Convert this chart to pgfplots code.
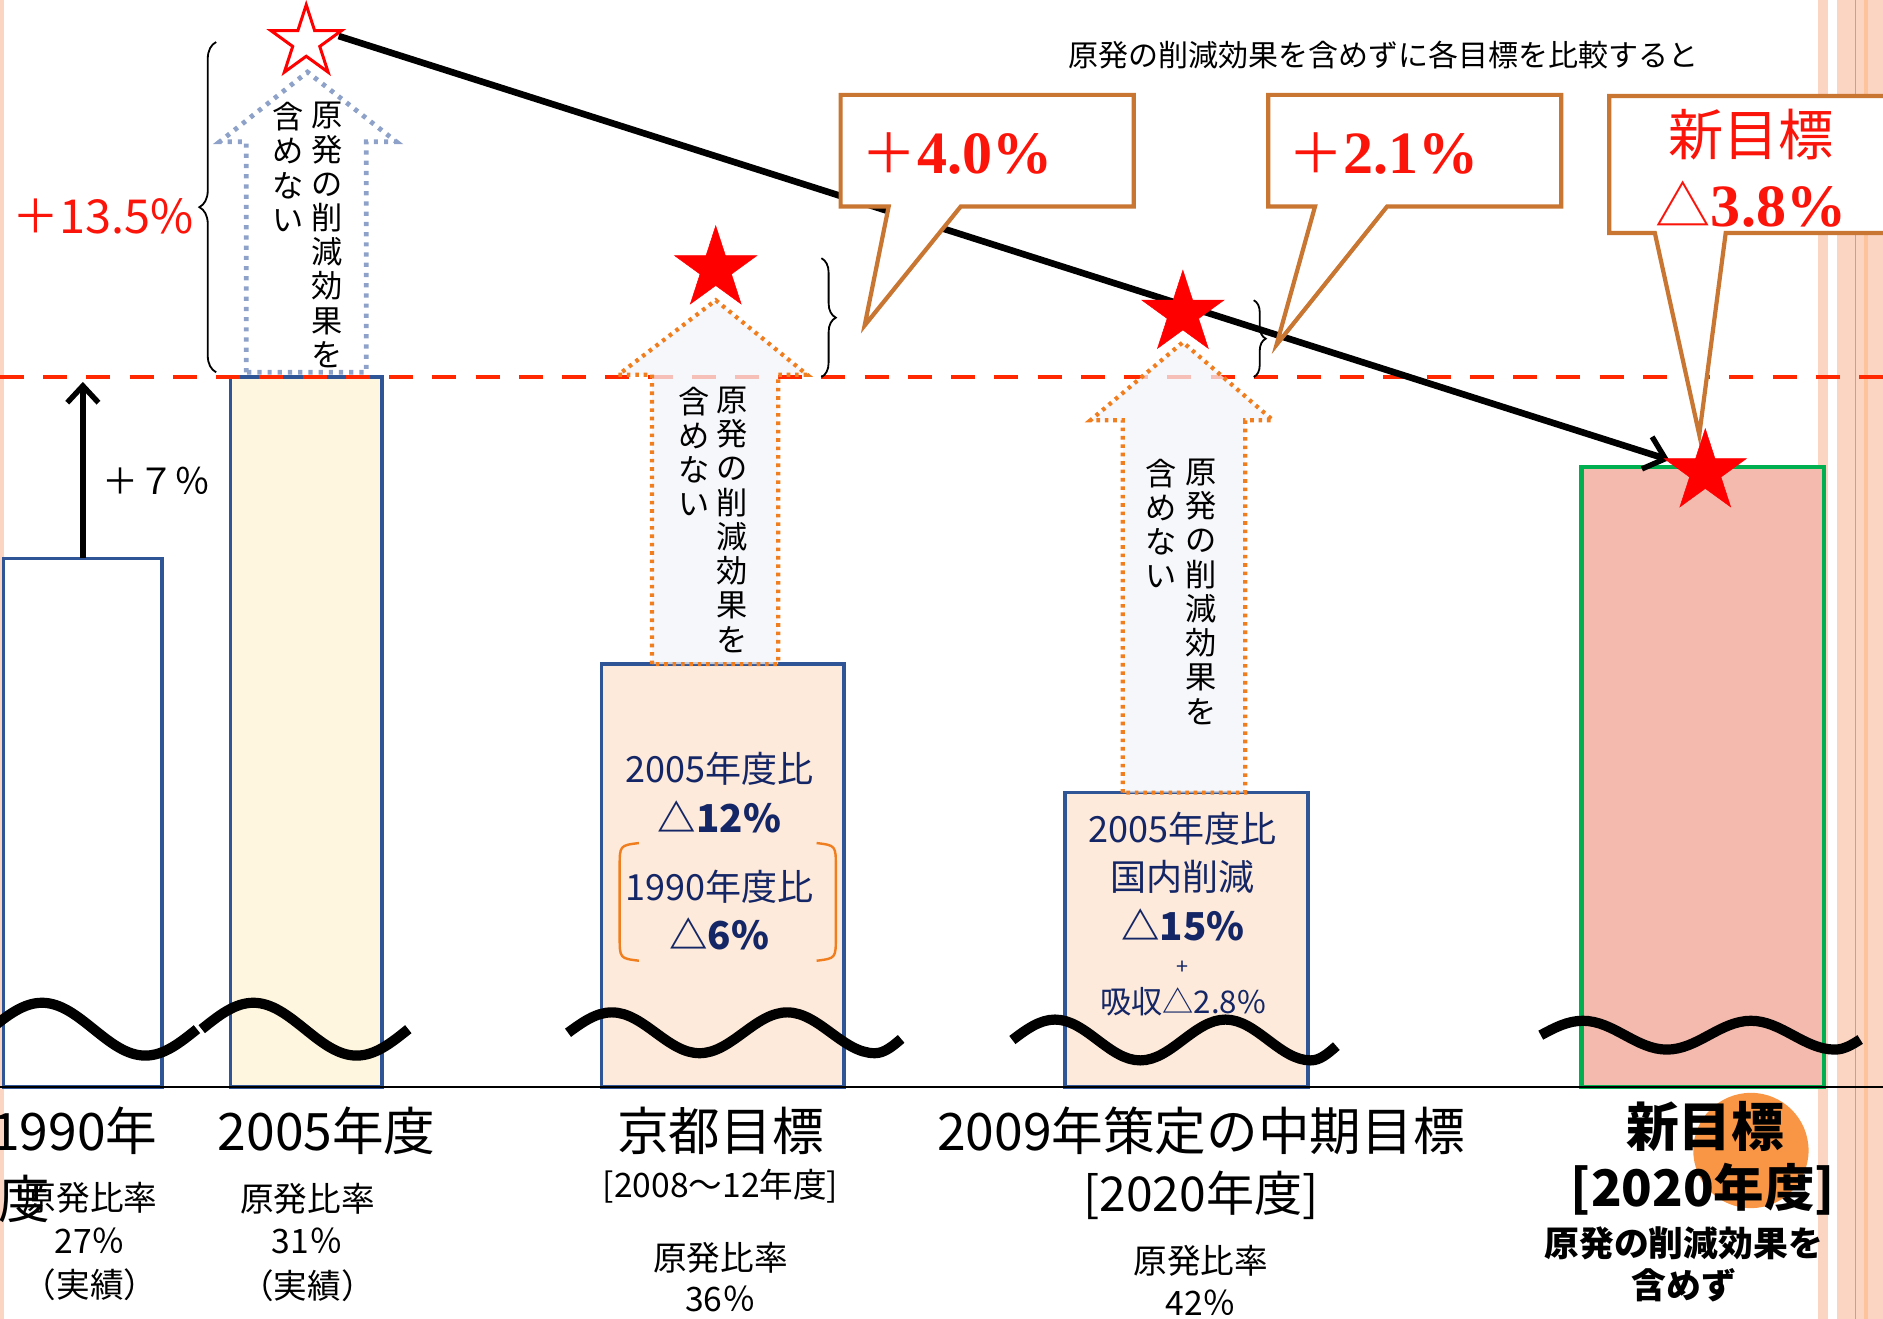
\documentclass[border=0pt]{standalone}
\usepackage{pgfplots}
\pgfplotsset{compat=1.18}
\usepackage{fontspec}
\setmainfont{Noto Sans CJK JP}
\newfontfamily\ser{Liberation Serif}
\usetikzlibrary{arrows.meta,decorations.pathreplacing}
\definecolor{barblue}{RGB}{47,85,151}
\definecolor{navy}{RGB}{20,38,102}
\definecolor{yel}{RGB}{254,246,222}
\definecolor{peach}{RGB}{253,234,218}
\definecolor{salm}{RGB}{244,186,174}
\definecolor{grn}{RGB}{0,176,80}
\definecolor{dred}{RGB}{255,40,0}
\definecolor{callo}{RGB}{200,118,50}
\definecolor{arrfill}{RGB}{243,244,248}
\definecolor{dotblue}{RGB}{142,162,201}
\definecolor{dotor}{RGB}{240,125,30}
\definecolor{stripe}{RGB}{252,212,194}
\definecolor{circor}{RGB}{248,150,70}
\definecolor{tred}{RGB}{250,20,10}
\newcommand\fs[1]{\fontsize{#1}{#1}\selectfont}
\pgfdeclareplotmark{fstar}{%
 \pgfpathmoveto{\pgfpointpolar{90}{\pgfplotmarksize}}%
 \pgfpathlineto{\pgfpointpolar{126}{0.382\pgfplotmarksize}}%
 \pgfpathlineto{\pgfpointpolar{162}{\pgfplotmarksize}}%
 \pgfpathlineto{\pgfpointpolar{198}{0.382\pgfplotmarksize}}%
 \pgfpathlineto{\pgfpointpolar{234}{\pgfplotmarksize}}%
 \pgfpathlineto{\pgfpointpolar{270}{0.382\pgfplotmarksize}}%
 \pgfpathlineto{\pgfpointpolar{306}{\pgfplotmarksize}}%
 \pgfpathlineto{\pgfpointpolar{342}{0.382\pgfplotmarksize}}%
 \pgfpathlineto{\pgfpointpolar{18}{\pgfplotmarksize}}%
 \pgfpathlineto{\pgfpointpolar{54}{0.382\pgfplotmarksize}}%
 \pgfpathclose\pgfusepathqfillstroke}
\newcommand\wave[4]{%
 \draw[line width=8.5pt] (#1,#3) sin ({#1+#2/4},{#3-#4}) cos ({#1+#2/2},#3) sin ({#1+3*#2/4},{#3+#4}) cos ({#1+#2},#3);}
\newcommand\dwave[4]{%
 \draw[line width=8.5pt] (#1,#3) sin ({#1+#2/4},{#3-#4}) cos ({#1+#2/2},#3) sin ({#1+3*#2/4},{#3+#4}) cos ({#1+#2},#3)
  sin ({#1+5*#2/4},{#3-#4}) cos ({#1+3*#2/2},#3) sin ({#1+7*#2/4},{#3+#4}) cos ({#1+1.9*#2},{#3+0.3*#4});}
\begin{document}
\begin{tikzpicture}
\begin{axis}[at={(0,0)}, anchor=south west, width=1568pt, height=1098pt, scale only axis,
 xmin=0, xmax=1568, ymin=0, ymax=1098, y dir=reverse, hide axis, clip=false]
% side stripes
\addplot[fill=stripe, draw=none] coordinates {(0,0)(3,0)(3,1098)(0,1098)} --cycle;
\addplot[fill=stripe, draw=none] coordinates {(1514,0)(1522,0)(1522,1098)(1514,1098)} --cycle;
\addplot[fill=stripe, draw=none] coordinates {(1530,0)(1568,0)(1568,1098)(1530,1098)} --cycle;
\addplot[draw=circor, line width=1.5pt] coordinates {(1545,0)(1545,1098)};
\addplot[draw=stripe!80!orange, line width=3pt] coordinates {(1554,0)(1554,1098)};
% bars
\addplot[fill=white, draw=barblue, line width=3pt] coordinates {(3,905)(3,465)(135,465)(135,905)} --cycle;
\addplot[fill=yel, draw=barblue, line width=3pt] coordinates {(192,905)(192,314)(318,314)(318,905)} --cycle;
\addplot[fill=peach, draw=barblue, line width=3pt] coordinates {(501,905)(501,553)(703,553)(703,905)} --cycle;
\addplot[fill=peach, draw=barblue, line width=3pt] coordinates {(887,905)(887,660)(1089,660)(1089,905)} --cycle;
\addplot[fill=salm, draw=grn, line width=3.5pt] coordinates {(1317,905)(1317,389)(1519,389)(1519,905)} --cycle;
% baseline
\addplot[black, line width=1.8pt] coordinates {(0,905)(1568,905)};
% dashed reference line
\addplot[dred, line width=4pt, dash pattern=on 20pt off 16pt] coordinates {(0,314)(1568,314)};
% hollow arrows
\addplot[fill=white, fill opacity=0.6, draw=dotblue, draw opacity=1, line width=4pt, dash pattern=on 3.5pt off 5pt]
 coordinates {(205,310)(205,118)(183,118)(256,60)(330,118)(305,118)(305,310)} --cycle;
\addplot[fill=arrfill, fill opacity=0.75, draw=dotor, draw opacity=1, line width=3.5pt, dash pattern=on 3pt off 4pt]
 coordinates {(543,553)(543,312)(515,312)(596,250)(672,312)(648,312)(648,553)} --cycle;
\addplot[fill=arrfill, fill opacity=0.75, draw=dotor, draw opacity=1, line width=3.5pt, dash pattern=on 3pt off 4pt]
 coordinates {(935,660)(935,350)(908,350)(985,285)(1060,350)(1037,350)(1037,660)} --cycle;
% vertical texts
\node[font=\fontsize{26pt}{28.5pt}\selectfont, align=center, anchor=north, inner sep=0pt] at (272,85) {原\\発\\の\\削\\減\\効\\果\\を};
\node[font=\fontsize{26pt}{28.5pt}\selectfont, align=center, anchor=north, inner sep=0pt] at (240,85) {含\\め\\な\\い};
\node[font=\fontsize{26pt}{28.5pt}\selectfont, align=center, anchor=north, inner sep=0pt] at (610,322) {原\\発\\の\\削\\減\\効\\果\\を};
\node[font=\fontsize{26pt}{28.5pt}\selectfont, align=center, anchor=north, inner sep=0pt] at (578,322) {含\\め\\な\\い};
\node[font=\fontsize{26pt}{28.5pt}\selectfont, align=center, anchor=north, inner sep=0pt] at (1000,382) {原\\発\\の\\削\\減\\効\\果\\を};
\node[font=\fontsize{26pt}{28.5pt}\selectfont, align=center, anchor=north, inner sep=0pt] at (967,382) {含\\め\\な\\い};
% +7% arrow
\addplot[black, line width=4.5pt, -{Straight Barb[length=14pt,width=26pt,line width=4.5pt]}] coordinates {(69,465)(69,318)};
\node[font=\fs{30pt}, text=black] at (130,400) {＋７％};
% braces
\draw[decorate, decoration={brace, amplitude=14pt}, line width=1.5pt] (180,310) -- (180,35);
\draw[decorate, decoration={brace, amplitude=12pt}, line width=1.5pt] (684,215) -- (684,314);
\draw[decorate, decoration={brace, amplitude=10pt}, line width=1.5pt] (1044,250) -- (1044,314);
\node[font=\fs{39pt}, text=tred] at (86,180) {＋13.5\%};
% trend line
\addplot[black, line width=5.5pt, -{Straight Barb[length=16pt,width=28pt,line width=4.5pt]}] coordinates {(282,30)(1390,383)};
% stars
\addplot[only marks, mark=fstar, mark size=31pt, mark options={fill=white, draw=red, line width=2.5pt}] coordinates {(255,35)};
\addplot[only marks, mark=fstar, mark size=36pt, mark options={fill=red, draw=red}] coordinates {(596,224)(985,261)(1420,393)};
% callouts
\addplot[fill=white, draw=callo, line width=3.5pt] coordinates {(700,79)(944,79)(944,172)(800,172)(720,271)(740,172)(700,172)} --cycle;
\addplot[fill=white, draw=callo, line width=3.5pt] coordinates {(1056,79)(1300,79)(1300,172)(1155,172)(1063,287)(1095,172)(1056,172)} --cycle;
\addplot[fill=white, draw=callo, line width=3.5pt] coordinates {(1340,80)(1590,80)(1590,194)(1437,194)(1415,362)(1378,194)(1340,194)} --cycle;
\node[text=tred, inner sep=0pt] at (797,128) {\fs{46pt}＋\ser\bfseries\fs{50pt}4.0\%};
\node[text=tred, inner sep=0pt] at (1152,128) {\fs{46pt}＋\ser\bfseries\fs{50pt}2.1\%};
\node[text=tred, inner sep=0pt, font=\fs{46pt}] at (1458,112) {新目標};
\node[text=tred, inner sep=0pt] at (1458,170) {\fs{46pt}△\ser\bfseries\fs{50pt}3.8\%};
% title
\node[font=\fs{25pt}] at (1152,46) {原発の削減効果を含めずに各目標を比較すると};
% bar texts
\node[font=\fs{30pt}, text=navy] at (599,640) {2005年度比};
\node[font=\bfseries\fs{32pt}, text=navy] at (599,680) {△12\%};
\node[font=\fs{30pt}, text=navy] at (599,738) {1990年度比};
\node[font=\bfseries\fs{32pt}, text=navy] at (599,778) {△6\%};
\draw[dotor, line width=2pt] (532,702) .. controls (516,704) .. (516,722) -- (516,780) .. controls (516,798) .. (532,800);
\draw[dotor, line width=2pt] (680,702) .. controls (696,704) .. (696,722) -- (696,780) .. controls (696,798) .. (680,800);
\node[font=\fs{30pt}, text=navy] at (985,690) {2005年度比};
\node[font=\fs{30pt}, text=navy] at (985,730) {国内削減};
\node[font=\bfseries\fs{32pt}, text=navy] at (985,770) {△15\%};
\node[font=\fs{18pt}, text=navy] at (985,806) {+};
\node[font=\fs{26pt}, text=navy] at (985,834) {吸収△2.8\%};
% waves
\wave{-8}{172}{857}{22}
\wave{168}{172}{857}{22}
\dwave{473}{146}{860}{17}
\dwave{843}{142}{866}{17}
\dwave{1283}{140}{862}{12}
% category labels
\fill[circor] (1458,958) circle[radius=48pt];
\node[font=\fs{43pt}] at (62,942) {1990年};
\node[font=\fs{43pt}] at (20,998) {度};
\node[font=\fs{28pt}] at (75,997) {原発比率};
\node[font=\fs{28pt}] at (75,1033) {27％};
\node[font=\fs{28pt}] at (75,1070) {（実績）};
\node[font=\fs{43pt}] at (272,942) {2005年度};
\node[font=\fs{28pt}] at (256,998) {原発比率};
\node[font=\fs{28pt}] at (256,1033) {31％};
\node[font=\fs{28pt}] at (256,1071) {（実績）};
\node[font=\fs{43pt}] at (600,942) {京都目標};
\node[font=\fs{28pt}] at (600,988) {[2008～12年度]};
\node[font=\fs{28pt}] at (600,1047) {原発比率};
\node[font=\fs{28pt}] at (600,1082) {36％};
\node[font=\fs{43pt}] at (1000,942) {2009年策定の中期目標};
\node[font=\fs{40pt}] at (1000,995) {[2020年度]};
\node[font=\fs{28pt}] at (1000,1050) {原発比率};
\node[font=\fs{28pt}] at (1000,1085) {42％};
\node[font=\bfseries\fs{44pt}] at (1420,938) {新目標};
\node[font=\bfseries\fs{42pt}] at (1418,990) {[2020年度]};
\node[font=\bfseries\fs{29pt}] at (1402,1035) {原発の削減効果を};
\node[font=\bfseries\fs{29pt}] at (1402,1070) {含めず};
\end{axis}
\pgfresetboundingbox
\path[use as bounding box] (0,0) rectangle (1568pt,1098pt);
\end{tikzpicture}
\end{document}
